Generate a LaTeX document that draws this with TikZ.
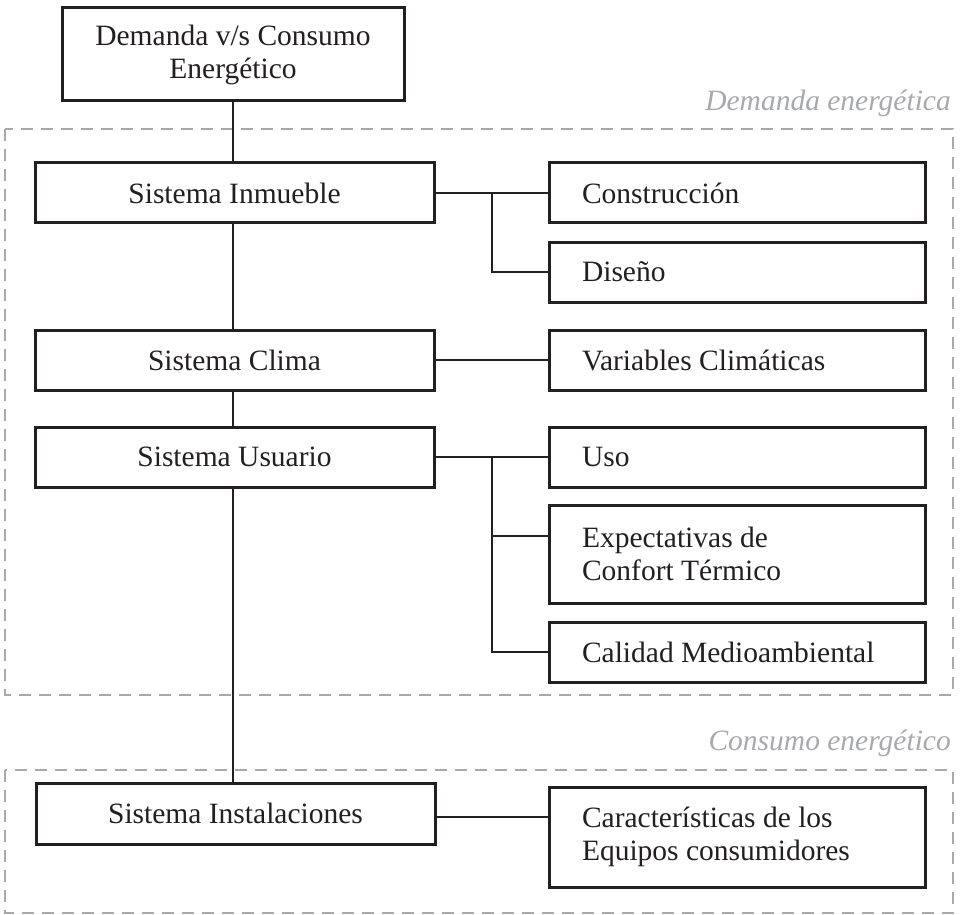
\documentclass[tikz,border=0pt]{standalone}
\usepackage{fontspec}
\setmainfont{Liberation Serif}
\definecolor{ink}{HTML}{231F20}
\definecolor{zone}{HTML}{A7A9AC}
\begin{document}
\begin{tikzpicture}[x=1pt,y=-1pt,
  every node/.style={font=\fontsize{29.5}{33}\selectfont, text=ink},
  lbox/.style={draw=ink, line width=3pt, minimum width=399pt, minimum height=60pt, align=center, inner sep=0pt},
  rbox/.style={draw=ink, line width=3pt, text width=310pt, inner xsep=33pt, inner ysep=0pt, minimum height=60pt, align=flush left},
  link/.style={draw=ink, line width=2.4pt},
  zonebox/.style={draw=zone, line width=2pt, dash pattern=on 12pt off 8pt},
  zonelabel/.style={text=zone, font=\fontsize{29.5}{33}\selectfont\itshape, anchor=base east, inner sep=0pt}]
\useasboundingbox (0,0) rectangle (962,915);

% zones
\draw[zonebox] (5,129) rectangle (953,695);
\draw[zonebox] (5,770) rectangle (953,913);
\node[zonelabel] (zl1) at (951,111) {Demanda energética};
\node[zonelabel] (zl2) at (951,750) {Consumo energético};

% left column
\node[lbox, minimum width=342pt, minimum height=93pt] (top) at (233,54.5) {Demanda v/s Consumo\\Energético};
\node[lbox] (inm) at (234.5,193) {Sistema Inmueble};
\node[lbox] (cli) at (234.5,360) {Sistema Clima};
\node[lbox] (usu) at (234.5,457) {Sistema Usuario};
\node[lbox, minimum height=61pt] (ins) at (235.5,813.5) {Sistema Instalaciones};

% right column
\node[rbox] (con) at (737,193) {Construcción};
\node[rbox] (dis) at (737,272) {Diseño};
\node[rbox] (var) at (737,360) {Variables Climáticas};
\node[rbox] (uso) at (737,457) {Uso};
\node[rbox, minimum height=98pt] (exp) at (737,554) {Expectativas de\\Confort Térmico};
\node[rbox] (cal) at (737,652) {Calidad Medioambiental};
\node[rbox, minimum height=100pt] (car) at (737,837) {Características de los\\Equipos consumidores};

% vertical spine
\draw[link] (top.south) -- (top.south |- inm.north);
\draw[link] (inm.south -| top.south) -- (cli.north -| top.south);
\draw[link] (cli.south -| top.south) -- (usu.north -| top.south);
\draw[link] (usu.south -| top.south) -- (ins.north -| top.south);

% branches
\coordinate (b1) at (492,193);
\draw[link] (inm.east) -- (con.west);
\draw[link] (b1) |- (dis.west);
\draw[link] (cli.east) -- (var.west);
\coordinate (b2) at (492,457);
\coordinate (e2) at (exp.west |- 0,536);
\draw[link] (usu.east) -- (uso.west);
\draw[link] (b2) |- (e2);
\draw[link] (b2) |- (cal.west);
\coordinate (i1) at (ins.east |- 0,817);
\coordinate (c1) at (car.west |- 0,817);
\draw[link] (i1) -- (c1);
\end{tikzpicture}
\end{document}
